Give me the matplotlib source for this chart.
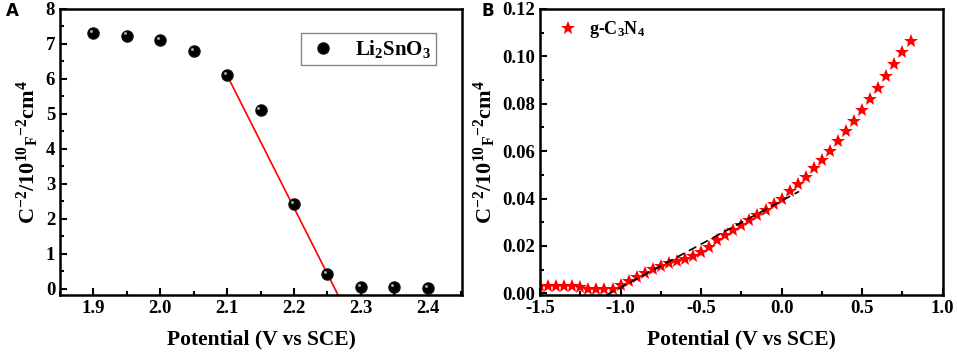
import matplotlib
matplotlib.use("Agg")
import matplotlib.pyplot as plt
from matplotlib.ticker import MultipleLocator, FormatStrFormatter
from matplotlib.transforms import offset_copy

# ---- data ----
potA = [1.9, 1.95, 2.0, 2.05, 2.1, 2.15, 2.2, 2.25, 2.3, 2.35, 2.4]
valA = [7.32, 7.24, 7.12, 6.80, 6.12, 5.10, 2.42, 0.42, 0.04, 0.05, 0.03]
fitA_x = [2.1, 2.266]
fitA_y = [6.1, -0.18]

potB = [-1.5, -1.45, -1.4, -1.35, -1.3, -1.25, -1.2, -1.15, -1.1, -1.05,
        -1.0, -0.95, -0.9, -0.85, -0.8, -0.75, -0.7, -0.65, -0.6, -0.55,
        -0.5, -0.45, -0.4, -0.35, -0.3, -0.25, -0.2, -0.15, -0.1, -0.05,
        0.0, 0.05, 0.1, 0.15, 0.2, 0.25, 0.3, 0.35, 0.4, 0.45,
        0.5, 0.55, 0.6, 0.65, 0.7, 0.75, 0.8]
valB = [0.0032, 0.0032, 0.0033, 0.0032, 0.0030, 0.0025, 0.0020, 0.0017, 0.0017, 0.0020,
        0.0035, 0.0050, 0.0070, 0.0087, 0.0104, 0.0115, 0.0127, 0.0137, 0.0146, 0.0158,
        0.0173, 0.0194, 0.0223, 0.0246, 0.0268, 0.0289, 0.0310, 0.0330, 0.0352, 0.0376,
        0.0399, 0.0430, 0.0460, 0.0490, 0.0527, 0.0563, 0.0601, 0.0642, 0.0686, 0.0727,
        0.0773, 0.0821, 0.0866, 0.0915, 0.0969, 0.1018, 0.1063]
fitB_x = [-1.086, 0.108]
fitB_y = [-0.0007, 0.043]

plt.rcParams['font.family'] = ['Liberation Serif', 'DejaVu Serif']
plt.rcParams['font.weight'] = 'bold'
plt.rcParams['axes.unicode_minus'] = False
plt.rcParams['mathtext.fontset'] = 'custom'
plt.rcParams['mathtext.rm'] = 'Liberation Serif:bold'
plt.rcParams['mathtext.it'] = 'Liberation Serif:bold'
plt.rcParams['mathtext.bf'] = 'Liberation Serif:bold'
plt.rcParams['mathtext.default'] = 'rm'

fig = plt.figure(figsize=(9.57, 3.54), dpi=100)
axA = fig.add_axes([0.0627, 0.1667, 0.4201, 0.808])
axB = fig.add_axes([0.5643, 0.1667, 0.4208, 0.808])

ylab = r'C$^{-2}$/10$^{10}{}_{F}{}^{-2}$cm$^{4}$'

def style(ax):
    for s in ax.spines.values():
        s.set_linewidth(1.8)
    ax.tick_params(which='both', direction='in', top=False, right=False, width=1.5, labelsize=13.5)
    ax.tick_params(which='major', length=5)
    ax.tick_params(which='minor', length=3)
    ax.set_xlabel('Potential (V vs SCE)', fontsize=15.5, fontweight='bold', labelpad=9)
    ax.set_ylabel(ylab, fontsize=16, fontweight='bold', labelpad=3)

# Panel A
axA.plot(fitA_x, fitA_y, color='red', lw=1.2, zorder=2)
axA.plot(potA, valA, 'o', color='black', ms=8, markeredgecolor='#111111', zorder=3, label='Li$_2$SnO$_3$')
hl = offset_copy(axA.transData, fig=fig, x=-1.5, y=1.5, units='points')
axA.plot(potA, valA, 'o', color='#a0a0a0', ms=2.2, markeredgewidth=0, zorder=4, transform=hl)
axA.set_xlim(1.85, 2.4515)
axA.set_ylim(-0.18, 8)
axA.xaxis.set_minor_locator(MultipleLocator(0.05))
axA.yaxis.set_major_locator(MultipleLocator(1))
axA.yaxis.set_minor_locator(MultipleLocator(0.5))
axA.set_xticks([1.9, 2.0, 2.1, 2.2, 2.3, 2.4])
axA.set_xticklabels(['1.9', '2.0', '2.1', '2.2', '2.3', '2.4'])
style(axA)
legA = axA.legend(loc='upper right', bbox_to_anchor=(0.935, 0.916), fontsize=15, frameon=True,
                  fancybox=False, edgecolor='#666666', handletextpad=0.7, borderpad=0.25,
                  handlelength=1.6, borderaxespad=0)
legA.get_frame().set_linewidth(1.0)

# Panel B
axB.plot(fitB_x, fitB_y, color='black', lw=1.2, ls=(0, (5, 3)), zorder=3)
axB.plot(potB, valB, '*', color='red', ms=10, markeredgewidth=0, zorder=2, label='g-C$_3$N$_4$')
axB.set_xlim(-1.5, 1.0)
axB.set_ylim(-0.0007, 0.12)
axB.xaxis.set_major_locator(MultipleLocator(0.5))
axB.xaxis.set_minor_locator(MultipleLocator(0.25))
axB.yaxis.set_major_locator(MultipleLocator(0.02))
axB.yaxis.set_minor_locator(MultipleLocator(0.01))
axB.yaxis.set_major_formatter(FormatStrFormatter('%.2f'))
axB.xaxis.set_major_formatter(FormatStrFormatter('%.1f'))
style(axB)
axB.legend(loc='upper left', bbox_to_anchor=(-0.005, 1.02), fontsize=13, frameon=False,
           handletextpad=0.4, handlelength=1.5)

fig.text(0.006, 0.955, 'A', fontsize=12, fontweight='bold', family='DejaVu Sans')
fig.text(0.503, 0.955, 'B', fontsize=12, fontweight='bold', family='DejaVu Sans')

fig.savefig('out.png', dpi=100)
